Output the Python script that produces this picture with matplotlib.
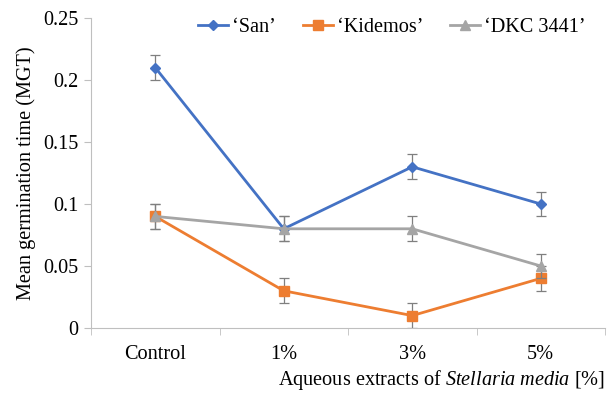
import matplotlib.pyplot as plt

categories = ["Control", "1%", "3%", "5%"]
san = [0.21, 0.08, 0.13, 0.10]
kidemos = [0.09, 0.03, 0.01, 0.04]
dkc = [0.09, 0.08, 0.08, 0.05]
san_err = [0.01, 0.01, 0.01, 0.01]
kidemos_err = [0.01, 0.01, 0.01, 0.01]
dkc_err = [0.01, 0.01, 0.01, 0.01]
yticks = [0, 0.05, 0.1, 0.15, 0.2, 0.25]
ytick_labels = ["0", "0.05", "0.1", "0.15", "0.2", "0.25"]

plt.rcParams['font.family'] = ['Liberation Serif', 'DejaVu Serif']
plt.rcParams['mathtext.fontset'] = 'custom'
plt.rcParams['mathtext.rm'] = 'Liberation Serif'
plt.rcParams['mathtext.it'] = 'Liberation Serif:italic'

fs = 14.6

fig = plt.figure(figsize=(6.16, 3.94), dpi=100)
ax = fig.add_axes([91 / 616, 1 - 328 / 394, 514 / 616, 310 / 394])

x = list(range(len(categories)))
series = [
    ("\u2018San\u2019", san, san_err, '#4472C4', 'D', 5.5),
    ("\u2018Kidemos\u2019", kidemos, kidemos_err, '#ED7D31', 's', 6.5),
    ("\u2018DKC 3441\u2019", dkc, dkc_err, '#A5A5A5', '^', 7),
]
for name, vals, err, col, mk, ms in series:
    ax.errorbar(x, vals, yerr=err, fmt='none', ecolor='#7F7F7F',
                elinewidth=0.9, capsize=3.5, capthick=0.9)
    ax.plot(x, vals, color=col, marker=mk, markersize=ms, linewidth=2,
            label=name)

ax.set_xlim(-0.5, len(categories) - 0.5)
ax.set_ylim(0, 0.25)
ax.set_yticks(yticks)
ax.set_yticklabels(ytick_labels, fontsize=fs)
ax.set_xticks(x)
ax.set_xticklabels(categories, fontsize=fs)
ax.set_xticks([i - 0.5 for i in range(len(categories) + 1)], minor=True)
ax.tick_params(axis='x', which='major', length=0, pad=12)
ax.tick_params(axis='x', which='minor', length=5, color='#BFBFBF')
ax.tick_params(axis='y', length=5, color='#BFBFBF', pad=4)

for s in ['top', 'right']:
    ax.spines[s].set_visible(False)
for s in ['left', 'bottom']:
    ax.spines[s].set_color('#BFBFBF')

ax.set_ylabel("Mean germination time (MGT)", fontsize=fs, labelpad=5)
ax.set_xlabel(r"Aqueous extracts of $\mathit{Stellaria\ media}$ [%]",
              fontsize=fs, loc='right', labelpad=3)

fig.legend(loc='center', bbox_to_anchor=(392 / 616, 1 - 27 / 394), ncol=3,
           frameon=False, fontsize=fs, handlelength=1.5, columnspacing=1.3,
           handletextpad=0.2)

fig.savefig("out.png", dpi=100)
